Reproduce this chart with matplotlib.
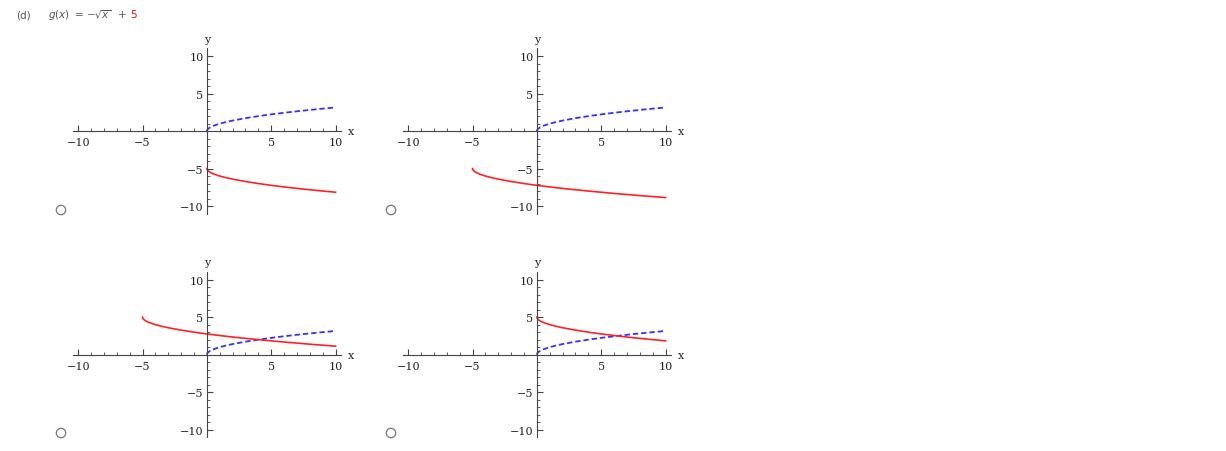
import matplotlib
matplotlib.use('Agg')
import matplotlib.pyplot as plt
import matplotlib.patches as mpatches
import matplotlib.transforms as mtransforms

W, H = 1226, 452

# sample points
x_right = [0, 0.02, 0.1, 0.25, 0.5, 1, 1.5, 2, 3, 4, 5, 6, 7, 8, 9, 10]
x_shift = [-5, -4.98, -4.9, -4.75, -4.5, -4, -3.5, -3, -2, -1, 0, 1, 2, 3, 4, 5, 6, 7, 8, 9, 10]

blue_y = [0, 0.14, 0.32, 0.5, 0.71, 1, 1.22, 1.41, 1.73, 2, 2.24, 2.45, 2.65, 2.83, 3, 3.16]

red_a = [-5, -5.14, -5.32, -5.5, -5.71, -6, -6.22, -6.41, -6.73, -7, -7.24, -7.45, -7.65, -7.83, -8, -8.16]
red_b = [-5, -5.14, -5.32, -5.5, -5.71, -6, -6.22, -6.41, -6.73, -7, -7.24, -7.45, -7.65,
         -7.83, -8, -8.16, -8.32, -8.46, -8.61, -8.74, -8.87]
red_c = [5, 4.86, 4.68, 4.5, 4.29, 4, 3.78, 3.59, 3.27, 3, 2.76, 2.55, 2.35,
         2.17, 2, 1.84, 1.68, 1.54, 1.39, 1.26, 1.13]
red_d = [5, 4.86, 4.68, 4.5, 4.29, 4, 3.78, 3.59, 3.27, 3, 2.76, 2.55, 2.35, 2.17, 2, 1.84]

panels = [
    (x_right, red_a),
    (x_shift, red_b),
    (x_shift, red_c),
    (x_right, red_d),
]

x_ticks = [-10, -5, 5, 10]
y_ticks = [-10, -5, 5, 10]
tick_labels = ['\u221210', '\u22125', '5', '10']

axis_col = '#444444'
text_col = '#222222'

fig = plt.figure(figsize=(W / 100, H / 100), dpi=100)
plt.rcParams['mathtext.fontset'] = 'dejavusans'

# header, placed piece by piece
hy = 1 - 15 / H
header_gray = '#555555'
fig.text(16 / W, hy, '(d)', fontsize=7.5, color=header_gray, va='center')
fig.text(48 / W, hy, r'$g(x)$', fontsize=7.5, color=header_gray, va='center')
fig.text(75 / W, hy, '=', fontsize=7.5, color=header_gray, va='center')
fig.text(87 / W, hy, '\u2212', fontsize=7.5, color=header_gray, va='center')
fig.text(94 / W, hy, r'$\sqrt{x}$', fontsize=7.5, color=header_gray, va='center')
fig.text(118 / W, hy, '+', fontsize=7.5, color=header_gray, va='center')
fig.text(130 / W, hy, '5', fontsize=7.5, color='#dd1111', va='center')

# pixel boxes (left, top) for each panel
origins = [(72.7, 49), (402.7, 49), (72.7, 272.5), (402.7, 272.5)]
box_w, box_h = 268, 165.5
radios = [(61, 211), (391, 211), (61, 434), (391, 434)]

for (xs, red), (px, py), (rx, ry) in zip(panels, origins, radios):
    ax = fig.add_axes([px / W, 1 - (py + box_h) / H, box_w / W, box_h / H])
    ax.set_xlim(-10.43, 10.4)
    ax.set_ylim(-11.0, 11.1)
    ax.patch.set_alpha(0)

    ax.plot(x_right, blue_y, color='#3333ff', lw=1.3, dashes=(3, 1.6))
    ax.plot(xs, red, color='#ff2222', lw=1.2)

    for side in ['top', 'right']:
        ax.spines[side].set_visible(False)
    for side in ['left', 'bottom']:
        ax.spines[side].set_position(('data', 0))
        ax.spines[side].set_color(axis_col)
        ax.spines[side].set_linewidth(0.8)

    ax.set_xticks(x_ticks)
    ax.set_yticks(y_ticks)
    ax.set_xticks(range(-10, 11), minor=True)
    ax.set_yticks(range(-10, 11), minor=True)
    ax.set_xticklabels(tick_labels)
    ax.set_yticklabels(tick_labels)
    ax.tick_params(which='major', direction='in', length=4, width=0.8, color=axis_col,
                   labelsize=8, labelcolor=text_col)
    ax.tick_params(which='minor', direction='in', length=2, width=0.6, color=axis_col)
    ax.tick_params(axis='x', pad=4.5)
    ax.tick_params(axis='y', pad=2.5)
    for lab in ax.get_xticklabels() + ax.get_yticklabels():
        lab.set_family('DejaVu Serif')

    tx = mtransforms.blended_transform_factory(ax.transData, ax.transAxes)
    ax.text(0, 1.025, 'y', transform=tx, ha='center', va='bottom', fontsize=8,
            color=text_col, family='DejaVu Serif')
    ty = mtransforms.blended_transform_factory(ax.transAxes, ax.transData)
    ax.text(1.025, 0, 'x', transform=ty, ha='left', va='center', fontsize=8,
            color=text_col, family='DejaVu Serif')

    fig.add_artist(mpatches.Circle((rx / 100, (H - ry) / 100), radius=0.047,
                                   transform=fig.dpi_scale_trans, fill=False,
                                   edgecolor='#777777', lw=0.9))

fig.savefig('out.png', dpi=100)
